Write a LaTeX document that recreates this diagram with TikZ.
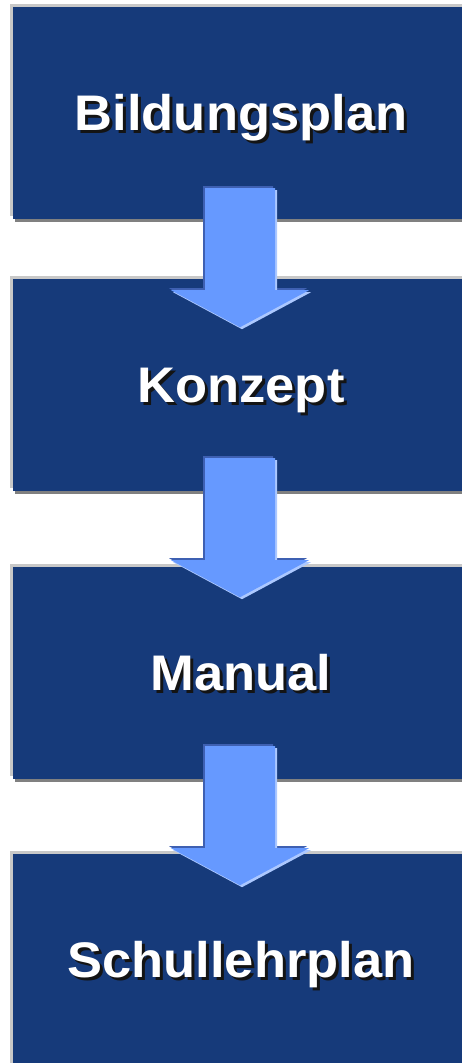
\documentclass[tikz,border=0pt]{standalone}
\usepackage{fontspec}
\setmainfont{Liberation Sans}[FakeStretch=1.05]
\usetikzlibrary{calc}
\definecolor{boxblue}{RGB}{22,58,122}
\definecolor{arrowblue}{RGB}{102,153,255}
\definecolor{arrowdark}{RGB}{62,96,178}
\definecolor{arrowlight}{RGB}{172,200,255}
\definecolor{frameLight}{RGB}{200,200,200}
\definecolor{frameDark}{RGB}{128,128,128}
\newcommand\shtext[1]{\leavevmode\rlap{\kern3pt\raisebox{-3pt}{\color{black!92}#1}}#1}
\begin{document}
\begin{tikzpicture}[x=1pt,y=-1pt,
  stepbox/.style={rectangle, fill=boxblue, minimum width=456pt, minimum height=212pt,
    inner sep=0pt, text=white, font=\fontsize{50}{60}\selectfont\bfseries,
    text height=44pt, text depth=10pt,
    preaction={fill=frameDark, transform canvas={shift={(2pt,-3pt)}}},
    preaction={fill=frameLight, transform canvas={shift={(-3pt,3pt)}}}},
  arrowshape/.style={insert path={(-35,0) -- (35,0) -- (35,102) -- (69,102) -- (0,139) -- (-69,102) -- (-35,102) -- cycle}},
  blockarrow/.pic={
    \fill[arrowdark, shift={(-2,-2)}, arrowshape];
    \fill[arrowlight, shift={(2,2)}, arrowshape];
    \fill[arrowblue, arrowshape];
  }
]
\useasboundingbox (0,0) rectangle (462,1063);
\clip (0,0) rectangle (462,1063);
\node[stepbox] (b1) at (241,113) {\shtext{Bildungsplan}};
\node[stepbox] (b2) at (241,385) {\shtext{Konzept}};
\node[stepbox] (b3) at (241,673) {\shtext{Manual}};
\node[stepbox] (b4) at (241,960) {\shtext{Schullehrplan}};
\pic at ($(b1.south)+(-1,-31)$) {blockarrow};
\pic at ($(b2.south)+(-1,-33)$) {blockarrow};
\pic at ($(b3.south)+(-1,-33)$) {blockarrow};
\end{tikzpicture}
\end{document}
